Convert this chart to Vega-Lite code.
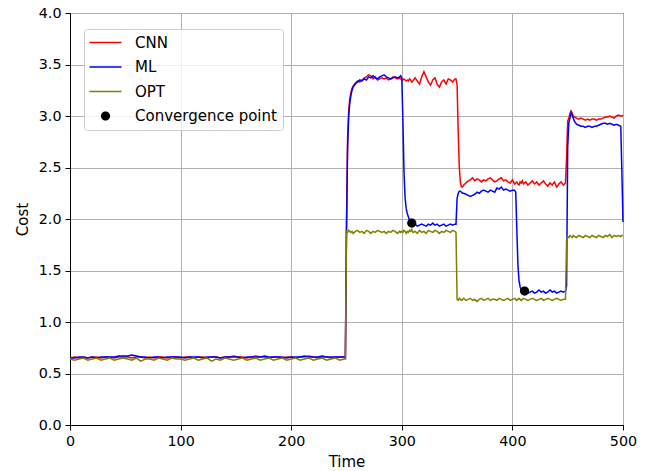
{
  "$schema": "https://vega.github.io/schema/vega-lite/v6.json",
  "width": 553,
  "height": 412,
  "autosize": "none",
  "padding": {"left": 70, "top": 13, "right": 39, "bottom": 46},
  "background": "white",
  "datasets": {
    "s": [
      {"t":0,"CNN":0.65,"ML":0.65,"OPT":0.64},
      {"t":4,"CNN":0.66,"ML":0.65,"OPT":0.63},
      {"t":8,"CNN":0.65,"ML":0.66,"OPT":0.64},
      {"t":12,"CNN":0.66,"ML":0.66,"OPT":0.65},
      {"t":16,"CNN":0.65,"ML":0.65,"OPT":0.63},
      {"t":20,"CNN":0.66,"ML":0.66,"OPT":0.64},
      {"t":24,"CNN":0.66,"ML":0.65,"OPT":0.65},
      {"t":28,"CNN":0.65,"ML":0.66,"OPT":0.63},
      {"t":32,"CNN":0.66,"ML":0.66,"OPT":0.64},
      {"t":36,"CNN":0.66,"ML":0.66,"OPT":0.65},
      {"t":40,"CNN":0.65,"ML":0.66,"OPT":0.63},
      {"t":44,"CNN":0.66,"ML":0.67,"OPT":0.64},
      {"t":48,"CNN":0.66,"ML":0.67,"OPT":0.65},
      {"t":52,"CNN":0.66,"ML":0.67,"OPT":0.64},
      {"t":56,"CNN":0.65,"ML":0.68,"OPT":0.63},
      {"t":60,"CNN":0.66,"ML":0.67,"OPT":0.65},
      {"t":64,"CNN":0.66,"ML":0.66,"OPT":0.62},
      {"t":68,"CNN":0.65,"ML":0.66,"OPT":0.64},
      {"t":72,"CNN":0.66,"ML":0.65,"OPT":0.64},
      {"t":76,"CNN":0.65,"ML":0.66,"OPT":0.63},
      {"t":80,"CNN":0.66,"ML":0.66,"OPT":0.65},
      {"t":84,"CNN":0.66,"ML":0.65,"OPT":0.64},
      {"t":88,"CNN":0.65,"ML":0.66,"OPT":0.63},
      {"t":92,"CNN":0.66,"ML":0.66,"OPT":0.65},
      {"t":96,"CNN":0.66,"ML":0.66,"OPT":0.64},
      {"t":100,"CNN":0.65,"ML":0.66,"OPT":0.64},
      {"t":104,"CNN":0.66,"ML":0.65,"OPT":0.63},
      {"t":108,"CNN":0.66,"ML":0.66,"OPT":0.64},
      {"t":112,"CNN":0.65,"ML":0.66,"OPT":0.65},
      {"t":116,"CNN":0.66,"ML":0.66,"OPT":0.63},
      {"t":120,"CNN":0.66,"ML":0.65,"OPT":0.64},
      {"t":124,"CNN":0.65,"ML":0.66,"OPT":0.65},
      {"t":128,"CNN":0.66,"ML":0.66,"OPT":0.62},
      {"t":132,"CNN":0.66,"ML":0.66,"OPT":0.64},
      {"t":136,"CNN":0.65,"ML":0.65,"OPT":0.63},
      {"t":140,"CNN":0.66,"ML":0.66,"OPT":0.65},
      {"t":144,"CNN":0.66,"ML":0.66,"OPT":0.64},
      {"t":148,"CNN":0.67,"ML":0.66,"OPT":0.63},
      {"t":152,"CNN":0.66,"ML":0.66,"OPT":0.64},
      {"t":156,"CNN":0.66,"ML":0.65,"OPT":0.65},
      {"t":160,"CNN":0.65,"ML":0.66,"OPT":0.63},
      {"t":164,"CNN":0.66,"ML":0.66,"OPT":0.64},
      {"t":168,"CNN":0.67,"ML":0.66,"OPT":0.65},
      {"t":172,"CNN":0.66,"ML":0.66,"OPT":0.63},
      {"t":176,"CNN":0.66,"ML":0.67,"OPT":0.64},
      {"t":180,"CNN":0.65,"ML":0.66,"OPT":0.65},
      {"t":184,"CNN":0.66,"ML":0.66,"OPT":0.63},
      {"t":188,"CNN":0.66,"ML":0.66,"OPT":0.64},
      {"t":192,"CNN":0.65,"ML":0.66,"OPT":0.65},
      {"t":196,"CNN":0.66,"ML":0.65,"OPT":0.63},
      {"t":200,"CNN":0.66,"ML":0.66,"OPT":0.64},
      {"t":204,"CNN":0.65,"ML":0.66,"OPT":0.65},
      {"t":208,"CNN":0.66,"ML":0.66,"OPT":0.63},
      {"t":212,"CNN":0.66,"ML":0.67,"OPT":0.64},
      {"t":216,"CNN":0.67,"ML":0.66,"OPT":0.65},
      {"t":220,"CNN":0.66,"ML":0.66,"OPT":0.63},
      {"t":224,"CNN":0.65,"ML":0.66,"OPT":0.64},
      {"t":228,"CNN":0.66,"ML":0.67,"OPT":0.65},
      {"t":232,"CNN":0.66,"ML":0.66,"OPT":0.63},
      {"t":236,"CNN":0.65,"ML":0.66,"OPT":0.64},
      {"t":240,"CNN":0.66,"ML":0.66,"OPT":0.65},
      {"t":244,"CNN":0.66,"ML":0.66,"OPT":0.63},
      {"t":248,"CNN":0.66,"ML":0.66,"OPT":0.64},
      {"t":249,"CNN":0.66,"ML":0.65,"OPT":0.64},
      {"t":250,"CNN":1.95,"ML":1.90,"OPT":1.88},
      {"t":251,"CNN":2.80,"ML":2.70,"OPT":1.87},
      {"t":252,"CNN":3.05,"ML":3.00,"OPT":1.89},
      {"t":253,"CNN":3.17,"ML":3.13,"OPT":1.88},
      {"t":254,"CNN":3.23,"ML":3.20,"OPT":1.87},
      {"t":255,"CNN":3.27,"ML":3.25,"OPT":1.88},
      {"t":256,"CNN":3.29,"ML":3.28,"OPT":1.86},
      {"t":258,"CNN":3.32,"ML":3.31,"OPT":1.88},
      {"t":260,"CNN":3.34,"ML":3.33,"OPT":1.89},
      {"t":262,"CNN":3.33,"ML":3.35,"OPT":1.87},
      {"t":264,"CNN":3.35,"ML":3.34,"OPT":1.88},
      {"t":266,"CNN":3.37,"ML":3.36,"OPT":1.86},
      {"t":268,"CNN":3.38,"ML":3.35,"OPT":1.89},
      {"t":270,"CNN":3.40,"ML":3.38,"OPT":1.88},
      {"t":272,"CNN":3.39,"ML":3.37,"OPT":1.86},
      {"t":274,"CNN":3.36,"ML":3.39,"OPT":1.88},
      {"t":276,"CNN":3.38,"ML":3.37,"OPT":1.87},
      {"t":278,"CNN":3.35,"ML":3.36,"OPT":1.89},
      {"t":280,"CNN":3.36,"ML":3.38,"OPT":1.88},
      {"t":282,"CNN":3.37,"ML":3.39,"OPT":1.87},
      {"t":284,"CNN":3.36,"ML":3.40,"OPT":1.88},
      {"t":286,"CNN":3.37,"ML":3.38,"OPT":1.86},
      {"t":288,"CNN":3.35,"ML":3.37,"OPT":1.88},
      {"t":290,"CNN":3.36,"ML":3.36,"OPT":1.87},
      {"t":292,"CNN":3.38,"ML":3.37,"OPT":1.89},
      {"t":294,"CNN":3.37,"ML":3.38,"OPT":1.88},
      {"t":296,"CNN":3.36,"ML":3.37,"OPT":1.86},
      {"t":298,"CNN":3.37,"ML":3.38,"OPT":1.88},
      {"t":299,"CNN":3.36,"ML":3.39,"OPT":1.87},
      {"t":300,"CNN":3.36,"ML":3.37,"OPT":1.88},
      {"t":301,"CNN":3.35,"ML":2.95,"OPT":1.87},
      {"t":302,"CNN":3.36,"ML":2.45,"OPT":1.89},
      {"t":303,"CNN":3.35,"ML":2.20,"OPT":1.88},
      {"t":304,"CNN":3.34,"ML":2.10,"OPT":1.86},
      {"t":305,"CNN":3.35,"ML":2.05,"OPT":1.88},
      {"t":306,"CNN":3.34,"ML":2.02,"OPT":1.87},
      {"t":307,"CNN":3.36,"ML":1.99,"OPT":1.89},
      {"t":308,"CNN":3.35,"ML":1.97,"OPT":1.88},
      {"t":309,"CNN":3.33,"ML":1.96,"OPT":1.90},
      {"t":310,"CNN":3.34,"ML":1.94,"OPT":1.87},
      {"t":312,"CNN":3.37,"ML":1.95,"OPT":1.88},
      {"t":314,"CNN":3.34,"ML":1.93,"OPT":1.86},
      {"t":316,"CNN":3.31,"ML":1.94,"OPT":1.89},
      {"t":318,"CNN":3.38,"ML":1.95,"OPT":1.87},
      {"t":320,"CNN":3.43,"ML":1.94,"OPT":1.88},
      {"t":322,"CNN":3.38,"ML":1.93,"OPT":1.86},
      {"t":324,"CNN":3.33,"ML":1.95,"OPT":1.89},
      {"t":326,"CNN":3.30,"ML":1.94,"OPT":1.88},
      {"t":328,"CNN":3.35,"ML":1.96,"OPT":1.87},
      {"t":330,"CNN":3.37,"ML":1.94,"OPT":1.89},
      {"t":332,"CNN":3.31,"ML":1.95,"OPT":1.88},
      {"t":334,"CNN":3.28,"ML":1.93,"OPT":1.86},
      {"t":336,"CNN":3.33,"ML":1.94,"OPT":1.88},
      {"t":338,"CNN":3.35,"ML":1.95,"OPT":1.87},
      {"t":340,"CNN":3.31,"ML":1.93,"OPT":1.89},
      {"t":342,"CNN":3.36,"ML":1.94,"OPT":1.88},
      {"t":344,"CNN":3.35,"ML":1.95,"OPT":1.87},
      {"t":346,"CNN":3.33,"ML":1.94,"OPT":1.89},
      {"t":348,"CNN":3.36,"ML":1.95,"OPT":1.88},
      {"t":349,"CNN":3.36,"ML":1.95,"OPT":1.87},
      {"t":350,"CNN":3.30,"ML":2.20,"OPT":1.22},
      {"t":351,"CNN":2.85,"ML":2.25,"OPT":1.21},
      {"t":352,"CNN":2.50,"ML":2.27,"OPT":1.23},
      {"t":353,"CNN":2.35,"ML":2.27,"OPT":1.22},
      {"t":354,"CNN":2.31,"ML":2.26,"OPT":1.21},
      {"t":355,"CNN":2.31,"ML":2.25,"OPT":1.22},
      {"t":356,"CNN":2.33,"ML":2.25,"OPT":1.23},
      {"t":358,"CNN":2.35,"ML":2.24,"OPT":1.21},
      {"t":360,"CNN":2.37,"ML":2.23,"OPT":1.22},
      {"t":362,"CNN":2.38,"ML":2.22,"OPT":1.23},
      {"t":364,"CNN":2.40,"ML":2.23,"OPT":1.21},
      {"t":366,"CNN":2.37,"ML":2.24,"OPT":1.22},
      {"t":368,"CNN":2.39,"ML":2.26,"OPT":1.20},
      {"t":370,"CNN":2.38,"ML":2.25,"OPT":1.22},
      {"t":372,"CNN":2.36,"ML":2.27,"OPT":1.23},
      {"t":374,"CNN":2.38,"ML":2.28,"OPT":1.21},
      {"t":376,"CNN":2.37,"ML":2.27,"OPT":1.22},
      {"t":378,"CNN":2.39,"ML":2.26,"OPT":1.23},
      {"t":380,"CNN":2.40,"ML":2.28,"OPT":1.21},
      {"t":382,"CNN":2.38,"ML":2.27,"OPT":1.22},
      {"t":384,"CNN":2.36,"ML":2.26,"OPT":1.22},
      {"t":386,"CNN":2.37,"ML":2.30,"OPT":1.21},
      {"t":388,"CNN":2.39,"ML":2.29,"OPT":1.23},
      {"t":390,"CNN":2.40,"ML":2.31,"OPT":1.22},
      {"t":392,"CNN":2.37,"ML":2.28,"OPT":1.21},
      {"t":394,"CNN":2.38,"ML":2.29,"OPT":1.22},
      {"t":396,"CNN":2.36,"ML":2.28,"OPT":1.23},
      {"t":398,"CNN":2.35,"ML":2.27,"OPT":1.21},
      {"t":400,"CNN":2.38,"ML":2.28,"OPT":1.22},
      {"t":402,"CNN":2.34,"ML":2.28,"OPT":1.23},
      {"t":403,"CNN":2.35,"ML":2.26,"OPT":1.22},
      {"t":404,"CNN":2.36,"ML":1.90,"OPT":1.21},
      {"t":405,"CNN":2.34,"ML":1.55,"OPT":1.22},
      {"t":406,"CNN":2.33,"ML":1.40,"OPT":1.23},
      {"t":407,"CNN":2.36,"ML":1.34,"OPT":1.22},
      {"t":408,"CNN":2.35,"ML":1.31,"OPT":1.21},
      {"t":409,"CNN":2.37,"ML":1.30,"OPT":1.22},
      {"t":410,"CNN":2.34,"ML":1.29,"OPT":1.23},
      {"t":412,"CNN":2.36,"ML":1.30,"OPT":1.22},
      {"t":414,"CNN":2.33,"ML":1.28,"OPT":1.21},
      {"t":416,"CNN":2.35,"ML":1.29,"OPT":1.22},
      {"t":418,"CNN":2.37,"ML":1.30,"OPT":1.23},
      {"t":420,"CNN":2.34,"ML":1.28,"OPT":1.22},
      {"t":422,"CNN":2.36,"ML":1.29,"OPT":1.21},
      {"t":424,"CNN":2.33,"ML":1.31,"OPT":1.22},
      {"t":426,"CNN":2.35,"ML":1.29,"OPT":1.23},
      {"t":428,"CNN":2.37,"ML":1.30,"OPT":1.21},
      {"t":430,"CNN":2.34,"ML":1.28,"OPT":1.22},
      {"t":432,"CNN":2.32,"ML":1.29,"OPT":1.23},
      {"t":434,"CNN":2.35,"ML":1.31,"OPT":1.22},
      {"t":436,"CNN":2.33,"ML":1.29,"OPT":1.21},
      {"t":438,"CNN":2.36,"ML":1.30,"OPT":1.22},
      {"t":440,"CNN":2.31,"ML":1.28,"OPT":1.23},
      {"t":442,"CNN":2.34,"ML":1.29,"OPT":1.22},
      {"t":444,"CNN":2.36,"ML":1.30,"OPT":1.21},
      {"t":446,"CNN":2.33,"ML":1.29,"OPT":1.22},
      {"t":448,"CNN":2.35,"ML":1.30,"OPT":1.22},
      {"t":449,"CNN":2.60,"ML":1.35,"OPT":1.80},
      {"t":450,"CNN":2.95,"ML":2.70,"OPT":1.83},
      {"t":451,"CNN":2.98,"ML":2.93,"OPT":1.82},
      {"t":452,"CNN":3.02,"ML":2.98,"OPT":1.84},
      {"t":453,"CNN":3.05,"ML":3.03,"OPT":1.83},
      {"t":454,"CNN":3.03,"ML":3.01,"OPT":1.82},
      {"t":455,"CNN":3.00,"ML":2.98,"OPT":1.84},
      {"t":456,"CNN":2.99,"ML":2.95,"OPT":1.83},
      {"t":458,"CNN":2.98,"ML":2.92,"OPT":1.82},
      {"t":460,"CNN":2.97,"ML":2.91,"OPT":1.84},
      {"t":462,"CNN":2.98,"ML":2.90,"OPT":1.83},
      {"t":464,"CNN":2.97,"ML":2.90,"OPT":1.82},
      {"t":466,"CNN":2.96,"ML":2.89,"OPT":1.84},
      {"t":468,"CNN":2.97,"ML":2.90,"OPT":1.83},
      {"t":470,"CNN":2.96,"ML":2.90,"OPT":1.82},
      {"t":472,"CNN":2.97,"ML":2.89,"OPT":1.84},
      {"t":474,"CNN":2.97,"ML":2.90,"OPT":1.83},
      {"t":476,"CNN":2.96,"ML":2.90,"OPT":1.82},
      {"t":478,"CNN":2.97,"ML":2.91,"OPT":1.84},
      {"t":480,"CNN":2.97,"ML":2.92,"OPT":1.83},
      {"t":482,"CNN":2.98,"ML":2.93,"OPT":1.82},
      {"t":484,"CNN":2.99,"ML":2.93,"OPT":1.84},
      {"t":486,"CNN":2.99,"ML":2.92,"OPT":1.83},
      {"t":488,"CNN":3.00,"ML":2.93,"OPT":1.85},
      {"t":490,"CNN":2.99,"ML":2.92,"OPT":1.82},
      {"t":492,"CNN":2.98,"ML":2.91,"OPT":1.84},
      {"t":494,"CNN":3.00,"ML":2.92,"OPT":1.83},
      {"t":496,"CNN":3.01,"ML":2.91,"OPT":1.84},
      {"t":498,"CNN":3.00,"ML":2.90,"OPT":1.83},
      {"t":499,"CNN":3.00,"ML":2.45,"OPT":1.84},
      {"t":500,"CNN":3.01,"ML":1.97,"OPT":1.84}
    ],
    "c": [
      {"t":309,"cost":1.96,"label":"Convergence point"},
      {"t":411,"cost":1.30,"label":"Convergence point"}
    ]
  },
  "encoding": {
    "x": {
      "field": "t", "type": "quantitative",
      "scale": {"domain": [0, 500], "nice": false, "zero": false},
      "axis": {"title": "Time", "values": [0, 100, 200, 300, 400, 500], "titlePadding": 6}
    }
  },
  "layer": [
    {
      "data": {"name": "s"},
      "mark": {"type": "line", "color": "#ff0000", "strokeWidth": 1.5},
      "encoding": {
        "y": {"field": "CNN", "type": "quantitative", "title": "Cost",
          "scale": {"domain": [0, 4], "nice": false},
          "axis": {"values": [0, 0.5, 1, 1.5, 2, 2.5, 3, 3.5, 4], "format": ".1f", "titlePadding": 8}}
      }
    },
    {
      "data": {"name": "s"},
      "mark": {"type": "line", "color": "#0000ff", "strokeWidth": 1.5},
      "encoding": {
        "y": {"field": "ML", "type": "quantitative", "title": "Cost"}
      }
    },
    {
      "data": {"name": "s"},
      "mark": {"type": "line", "color": "#808000", "strokeWidth": 1.5},
      "encoding": {
        "y": {"field": "OPT", "type": "quantitative", "title": "Cost"}
      }
    },
    {
      "data": {"name": "c"},
      "mark": {"type": "point", "filled": true, "opacity": 1, "size": 64},
      "encoding": {
        "y": {"field": "cost", "type": "quantitative", "title": "Cost"},
        "color": {
          "field": "label", "type": "nominal",
          "scale": {"domain": ["CNN", "ML", "OPT", "Convergence point"], "range": ["#ff0000", "#0000ff", "#808000", "#000000"]},
          "legend": {"title": null}
        },
        "shape": {
          "field": "label", "type": "nominal",
          "scale": {"domain": ["CNN", "ML", "OPT", "Convergence point"],
            "range": ["M-4,-0.2L4,-0.2L4,0.2L-4,0.2Z", "M-4,-0.2L4,-0.2L4,0.2L-4,0.2Z", "M-4,-0.2L4,-0.2L4,0.2L-4,0.2Z", "M1.15,0A1.15,1.15,0,1,1,-1.15,0A1.15,1.15,0,1,1,1.15,0Z"]},
          "legend": {"title": null}
        }
      }
    }
  ],
  "config": {
    "view": {"stroke": "#000000", "strokeWidth": 1},
    "font": "DejaVu Sans",
    "axis": {
      "labelFont": "DejaVu Sans", "labelFontSize": 14.3, "labelColor": "#000000",
      "titleFont": "DejaVu Sans", "titleFontSize": 15, "titleFontWeight": "normal", "titleColor": "#000000",
      "domainColor": "#000000", "domainWidth": 1, "tickColor": "#000000", "tickSize": 5, "tickWidth": 1,
      "grid": true, "gridColor": "#b0b0b0", "gridWidth": 1, "gridOpacity": 1, "labelPadding": 4, "labelFlush": false, "labelOverlap": false
    },
    "legend": {
      "orient": "none", "legendX": 14, "legendY": 16,
      "fillColor": "rgba(255,255,255,0.8)", "strokeColor": "#cccccc", "cornerRadius": 3, "padding": 6,
      "labelFont": "DejaVu Sans", "labelFontSize": 15, "labelColor": "#000000",
      "symbolSize": 64, "symbolStrokeWidth": 0, "symbolOpacity": 1, "symbolOffset": 8, "labelOffset": 22, "rowPadding": 8.5
    }
  }
}
